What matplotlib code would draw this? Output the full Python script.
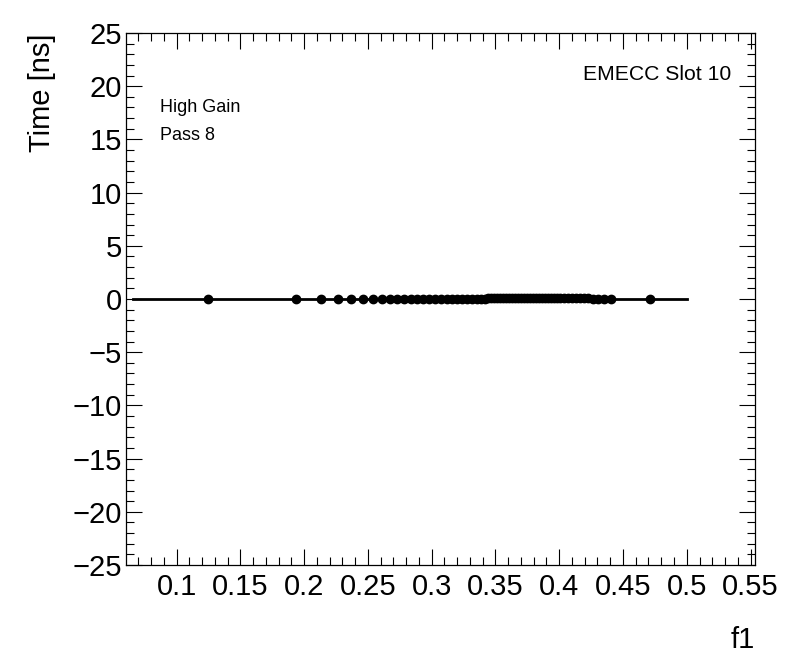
import matplotlib
matplotlib.use("Agg")
import matplotlib.pyplot as plt
from matplotlib.ticker import MultipleLocator
import numpy as np

plt.rcParams['font.family'] = ['Liberation Sans', 'DejaVu Sans']

# Data
f1_values = [0.1245, 0.1935, 0.2131, 0.2264, 0.2366, 0.2460, 0.2538, 0.2609,
             0.2672, 0.2726, 0.2781, 0.2836, 0.2883, 0.2930, 0.2977, 0.3024,
             0.3071, 0.3118, 0.3157, 0.3197, 0.3236, 0.3275, 0.3314, 0.3353,
             0.3385, 0.3416, 0.3440, 0.3463, 0.3487, 0.3510, 0.3534, 0.3557,
             0.3581, 0.3604, 0.3628, 0.3652, 0.3675, 0.3699, 0.3722, 0.3746,
             0.3769, 0.3793, 0.3816, 0.3840, 0.3863, 0.3887, 0.3910, 0.3934,
             0.3957, 0.3981, 0.4004, 0.4035, 0.4067, 0.4098, 0.4130, 0.4161,
             0.4192, 0.4223, 0.4263, 0.4302, 0.4349, 0.4404, 0.4710]
time_values = [0.0] * 26 + [0.05] * 32 + [0.0] * 5
fit_x = [0.066, 0.5]
fit_y = [0.0, 0.0]

fig = plt.figure(figsize=(7.96, 6.72), dpi=100)
ax = fig.add_axes([126/796, 1-565/672, (755-126)/796, (565-33)/672])

ax.plot(fit_x, fit_y, color='black', lw=2.0, zorder=2)
ax.plot(f1_values, time_values, 'o', color='black', ms=6, zorder=3)

ax.set_xlim(0.0604, 0.5535)
ax.set_ylim(-25, 25)

ax.xaxis.set_major_locator(MultipleLocator(0.05))
ax.xaxis.set_minor_locator(MultipleLocator(0.01))
ax.yaxis.set_major_locator(MultipleLocator(5))
ax.yaxis.set_minor_locator(MultipleLocator(1))

ax.set_xticks(np.arange(0.1, 0.56, 0.05))
ax.set_xticklabels(['0.1', '0.15', '0.2', '0.25', '0.3', '0.35', '0.4', '0.45', '0.5', '0.55'])
ax.set_yticks(np.arange(-25, 26, 5))
ax.set_yticklabels(['\u221225', '\u221220', '\u221215', '\u221210', '\u22125', '0',
                    '5', '10', '15', '20', '25'])

ax.tick_params(which='both', direction='in', top=True, right=True, width=0.8, color='black')
ax.tick_params(which='major', length=11.5, labelsize=21)
ax.tick_params(which='minor', length=5.5)
ax.tick_params(axis='x', which='major', pad=6)
ax.tick_params(axis='y', which='major', pad=3)
for s in ax.spines.values():
    s.set_linewidth(0.9)

ax.set_ylabel('Time [ns]', fontsize=21, loc='top', labelpad=12)
ax.set_xlabel('f1', fontsize=21, loc='right', labelpad=18)

fig.text(731/796, 1-75/672, 'EMECC Slot 10', fontsize=15.2, ha='right', va='center')
fig.text(160/796, 1-108/672, 'High Gain', fontsize=13, ha='left', va='center')
fig.text(160/796, 1-136/672, 'Pass 8', fontsize=13, ha='left', va='center')

fig.savefig('out.png', dpi=100)
